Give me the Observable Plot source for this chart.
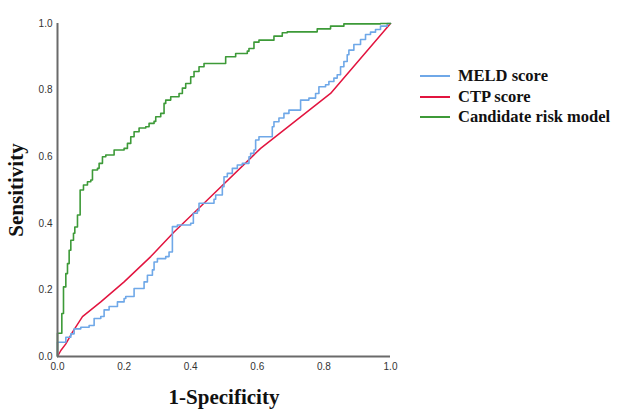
<!DOCTYPE html>
<html>
<head>
<meta charset="utf-8">
<script src="https://cdn.jsdelivr.net/npm/d3@7"></script>
<script src="https://cdn.jsdelivr.net/npm/@observablehq/plot@0.6"></script>
<style>
  html, body { margin: 0; padding: 0; background: #fff; }
  #wrap { position: relative; width: 624px; height: 413px; }
  #legend { position: absolute; left: 420px; top: 66px; font-family: "Liberation Serif", "Times New Roman", serif; font-weight: bold; font-size: 16.5px; color: #111; }
  #legend .row { display: flex; align-items: center; height: 20.5px; }
  #legend .sw { width: 30px; height: 0; border-top: 2px solid; margin-right: 8px; }
</style>
</head>
<body>
<div id="wrap"><div id="legend"></div></div>
<script>
const seriesNames = ["MELD score", "CTP score", "Candidate risk model"];
const seriesColors = ["#6fa8e8", "#e2143f", "#3d9a38"];

const meldFpr = [0,0,0.025,0.04,0.05,0.07,0.095,0.11,0.13,0.14,0.155,0.18,0.2,0.205,0.23,0.26,0.27,0.285,0.29,0.30,0.325,0.335,0.345,0.345,0.36,0.40,0.408,0.42,0.425,0.47,0.475,0.495,0.50,0.51,0.525,0.54,0.555,0.575,0.58,0.59,0.595,0.605,0.645,0.65,0.665,0.68,0.695,0.73,0.755,0.775,0.785,0.805,0.815,0.83,0.84,0.85,0.86,0.87,0.875,0.89,0.91,0.925,0.94,0.955,0.97,0.99,1];
const meldTpr = [0,0.043,0.058,0.068,0.083,0.088,0.093,0.114,0.12,0.14,0.15,0.164,0.174,0.18,0.204,0.224,0.244,0.26,0.284,0.294,0.30,0.314,0.33,0.39,0.395,0.40,0.43,0.438,0.46,0.472,0.485,0.51,0.54,0.55,0.565,0.575,0.58,0.60,0.61,0.62,0.65,0.66,0.69,0.705,0.716,0.73,0.74,0.77,0.776,0.79,0.81,0.816,0.826,0.836,0.846,0.87,0.886,0.906,0.92,0.937,0.952,0.967,0.974,0.982,0.992,1.0,1.0];

const ctpFpr = [0,0.01,0.025,0.045,0.075,0.13,0.20,0.28,0.35,0.45,0.61,0.82,1];
const ctpTpr = [0,0.018,0.038,0.073,0.12,0.164,0.224,0.30,0.374,0.47,0.625,0.79,1];

const candFpr = [0,0,0.013,0.018,0.025,0.030,0.035,0.040,0.048,0.052,0.060,0.068,0.078,0.09,0.10,0.105,0.12,0.125,0.135,0.145,0.17,0.2,0.21,0.22,0.23,0.245,0.265,0.275,0.29,0.295,0.31,0.32,0.325,0.34,0.365,0.375,0.385,0.40,0.41,0.425,0.44,0.505,0.535,0.57,0.575,0.59,0.605,0.65,0.675,0.69,0.78,0.82,0.86,0.97,1.0];
const candTpr = [0,0.07,0.129,0.209,0.249,0.279,0.319,0.349,0.37,0.389,0.425,0.50,0.515,0.525,0.53,0.56,0.565,0.58,0.60,0.605,0.62,0.625,0.64,0.66,0.675,0.686,0.69,0.70,0.706,0.72,0.73,0.76,0.77,0.78,0.79,0.806,0.82,0.84,0.856,0.87,0.88,0.90,0.91,0.917,0.925,0.944,0.95,0.962,0.972,0.975,0.984,0.992,0.999,1.0,1.0];

const xTicks = [0, 0.2, 0.4, 0.6, 0.8, 1.0];
const yTicks = [0, 0.2, 0.4, 0.6, 0.8, 1.0];

const toRows = (xs, ys) => xs.map((x, i) => ({x, y: ys[i]}));
const meld = toRows(meldFpr, meldTpr);
const ctp = toRows(ctpFpr, ctpTpr);
const cand = toRows(candFpr, candTpr);

const chart = Plot.plot({
  width: 624,
  height: 413,
  marginLeft: 57,
  marginRight: 234,
  marginTop: 23,
  marginBottom: 57,
  style: { background: "#fff", fontFamily: "Liberation Sans, Arial, sans-serif", fontSize: "10px", color: "#333" },
  x: { domain: [0, 1] },
  y: { domain: [0, 1] },
  marks: [
    Plot.axisX({ticks: xTicks, tickFormat: d3.format(".1f"), tickSize: 0, tickPadding: 6, label: null, fontSize: 10}),
    Plot.axisY({ticks: yTicks, tickFormat: d3.format(".1f"), tickSize: 0, tickPadding: 5, label: null, fontSize: 10}),
    Plot.line(ctp, {x: "x", y: "y", stroke: seriesColors[1], strokeWidth: 1.5}),
    Plot.line(meld, {x: "x", y: "y", stroke: seriesColors[0], strokeWidth: 1.6, curve: "step-after"}),
    Plot.line(cand, {x: "x", y: "y", stroke: seriesColors[2], strokeWidth: 1.6, curve: "step-after"}),
    Plot.ruleX([0], {stroke: "#6a6a6a", strokeWidth: 2}),
    Plot.ruleY([0], {stroke: "#6a6a6a", strokeWidth: 2}),
    Plot.text(["Sensitivity"], {frameAnchor: "left", textAnchor: "middle", lineAnchor: "middle", rotate: -90, dx: -41, fontFamily: "Liberation Serif, Times New Roman, serif", fontWeight: "bold", fontSize: 21, fill: "#111"}),
    Plot.text(["1-Specificity"], {frameAnchor: "bottom", lineAnchor: "middle", dy: 41, fontFamily: "Liberation Serif, Times New Roman, serif", fontWeight: "bold", fontSize: 21, fill: "#111"})
  ]
});
const wrap = document.getElementById("wrap");
wrap.insertBefore(chart, wrap.firstChild);

const legend = document.getElementById("legend");
seriesNames.forEach((name, i) => {
  const row = document.createElement("div");
  row.className = "row";
  const sw = document.createElement("span");
  sw.className = "sw";
  sw.style.borderTopColor = seriesColors[i];
  const label = document.createElement("span");
  label.textContent = name;
  row.appendChild(sw);
  row.appendChild(label);
  legend.appendChild(row);
});
</script>
</body>
</html>
